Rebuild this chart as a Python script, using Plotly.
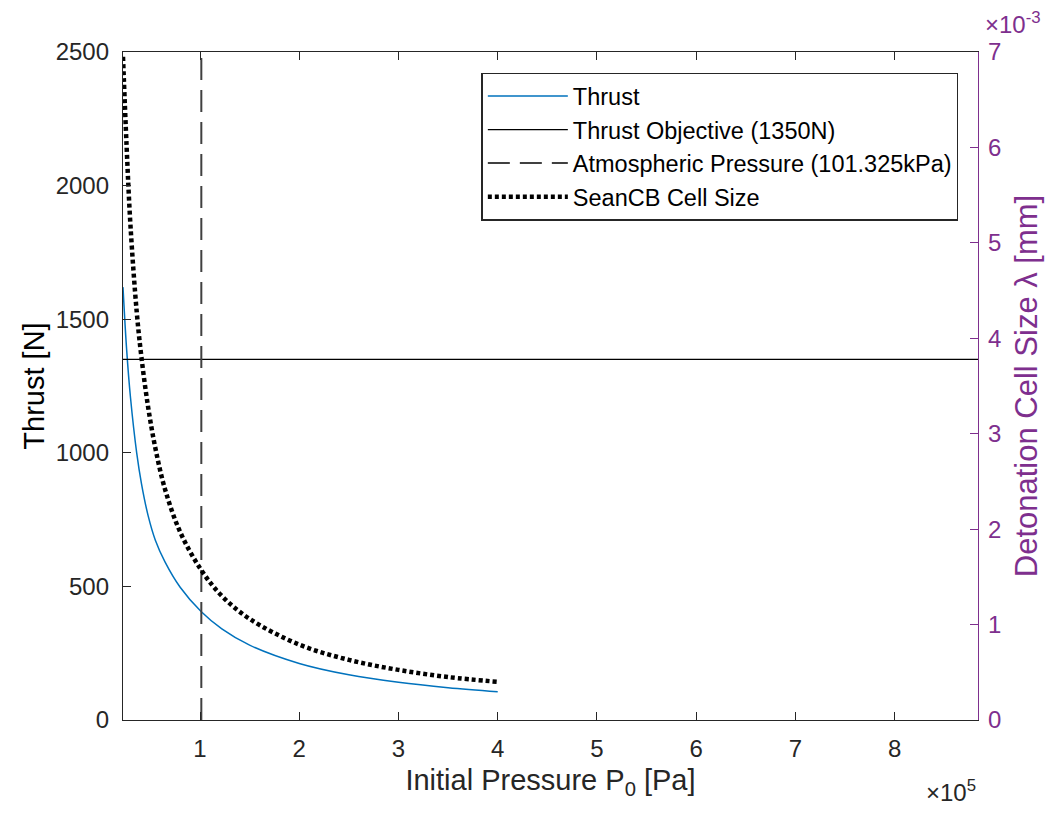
import plotly.graph_objects as go

# ---- data ----
pressure_pa = [22400, 26000, 30000, 36200, 41000, 47700, 55000, 64700, 80000,
               101325, 122000, 150000, 200000, 250000, 300000, 350000, 400000]
thrust_n = [1620, 1390, 1205, 1000, 885, 765, 673, 592, 497,
            405, 341, 280, 211.5, 169, 141, 121, 106]
cell_size = [6.95e-3, 6.02e-3, 5.17e-3, 4.28e-3, 3.8e-3, 3.28e-3, 2.85e-3, 2.42e-3, 1.97e-3,
             1.57e-3, 1.30e-3, 1.06e-3, 0.79e-3, 0.63e-3, 0.525e-3, 0.45e-3, 0.40e-3]

thrust_objective = 1350
atm_pressure = 101325
x_limits = [22400, 884000]
y_limits = [0, 2500]
y2_limits = [0, 7e-3]

x_tick_vals = [1e5, 2e5, 3e5, 4e5, 5e5, 6e5, 7e5, 8e5]
x_tick_text = ["1", "2", "3", "4", "5", "6", "7", "8"]
y_tick_vals = [0, 500, 1000, 1500, 2000, 2500]
y2_tick_vals = [0, 1e-3, 2e-3, 3e-3, 4e-3, 5e-3, 6e-3, 7e-3]
y2_tick_text = ["0", "1", "2", "3", "4", "5", "6", "7"]

AX = "#262626"
PURPLE = "#7E2F8E"
FONT = "Liberation Sans"
TICK = 24
LABEL = 29

fig = go.Figure()
fig.add_trace(go.Scatter(x=pressure_pa, y=thrust_n, mode="lines", name="Thrust",
                         line=dict(color="#0072BD", width=1.5, shape="spline", smoothing=1.0)))
fig.add_trace(go.Scatter(x=x_limits, y=[thrust_objective, thrust_objective], mode="lines",
                         name="Thrust Objective (1350N)", line=dict(color="#000000", width=1.3)))
fig.add_trace(go.Scatter(x=[atm_pressure, atm_pressure], y=y_limits, mode="lines",
                         name="Atmospheric Pressure (101.325kPa)",
                         line=dict(color="#404040", width=2, dash="22px,10px")))
fig.add_trace(go.Scatter(x=pressure_pa, y=cell_size, mode="lines", name="SeanCB Cell Size",
                         yaxis="y2",
                         line=dict(color="#000000", width=4.5, dash="4px,3px", shape="spline", smoothing=1.0)))

fig.update_layout(
    width=1047, height=805,
    margin=dict(l=115, r=77, t=44, b=93),
    paper_bgcolor="white", plot_bgcolor="white",
    font=dict(family=FONT, size=TICK, color=AX),
    showlegend=True,
    legend=dict(x=0.977, y=0.969, xanchor="right", yanchor="top",
                bordercolor=AX, borderwidth=1.5, bgcolor="white",
                font=dict(family=FONT, size=23.5, color="#000000"),
                tracegroupgap=0, itemwidth=80),
    xaxis=dict(range=x_limits, tickvals=x_tick_vals, ticktext=x_tick_text,
               showgrid=False, zeroline=False, showline=True, linecolor=AX, linewidth=1.3,
               mirror="ticks", ticks="inside", ticklen=8, tickcolor=AX,
               tickfont=dict(size=TICK, color=AX), ticklabelstandoff=7,
               title=dict(text="Initial Pressure P<sub>0</sub> [Pa]", font=dict(size=LABEL, color=AX), standoff=8)),
    yaxis=dict(range=y_limits, tickvals=y_tick_vals,
               showgrid=False, zeroline=False, showline=True, linecolor=AX, linewidth=1.3,
               ticks="inside", ticklen=8, tickcolor=AX,
               tickfont=dict(size=TICK, color=AX), ticklabelstandoff=8,
               title=dict(text="Thrust [N]", font=dict(size=LABEL, color="#000000"), standoff=2)),
    yaxis2=dict(range=y2_limits, tickvals=y2_tick_vals, ticktext=y2_tick_text,
                overlaying="y", side="right", anchor="x",
                showgrid=False, zeroline=False, showline=True, linecolor=PURPLE, linewidth=1.3,
                ticks="inside", ticklen=8, tickcolor=PURPLE,
                tickfont=dict(size=TICK, color=PURPLE), ticklabelstandoff=4,
                title=dict(text="Detonation Cell Size λ [mm]", font=dict(size=31, color=PURPLE), standoff=14)),
    annotations=[
        dict(text="×10<sup>5</sup>", xref="paper", yref="paper", x=1.0, y=-0.106,
             xanchor="right", yanchor="middle", showarrow=False, font=dict(size=24, color=AX)),
        dict(text="×10<sup>-3</sup>", xref="paper", yref="paper", x=1.006, y=1.018,
             xanchor="left", yanchor="bottom", showarrow=False, font=dict(size=24, color=PURPLE)),
    ],
)

fig.write_html("out.html")
